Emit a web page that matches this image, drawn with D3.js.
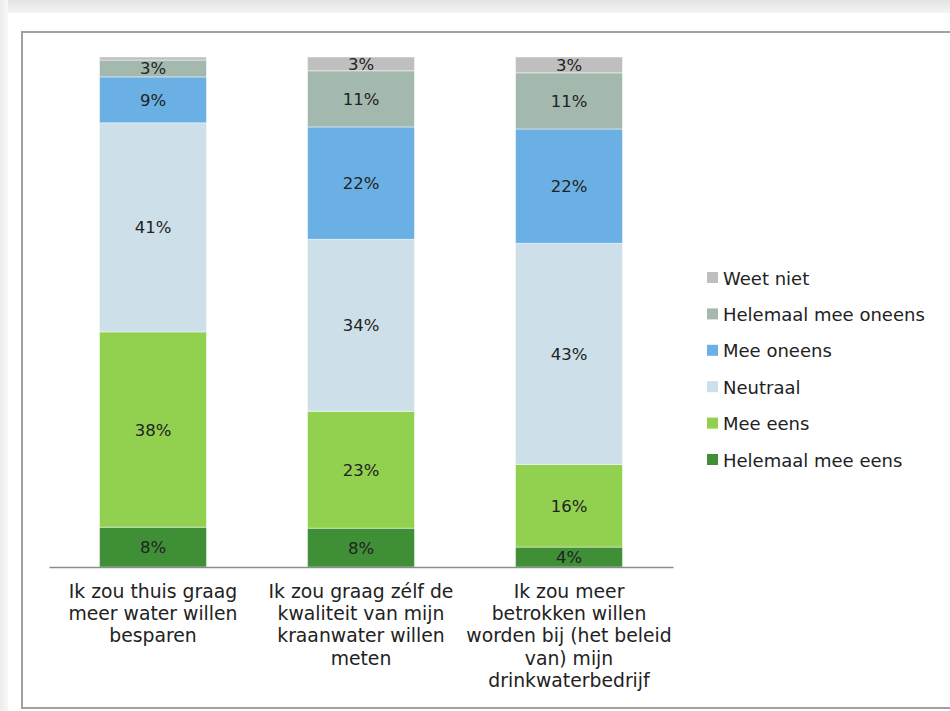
<!DOCTYPE html>
<html>
<head>
<meta charset="utf-8">
<script src="https://cdn.jsdelivr.net/npm/d3@7/dist/d3.min.js"></script>
<style>
  html, body { margin: 0; padding: 0; background: #fff; }
  svg { display: block; font-family: "DejaVu Sans", Verdana, sans-serif; }
</style>
</head>
<body>
<svg id="chart" width="950" height="711"></svg>
<script>
// Survey statements (x categories), broken in lines as in the original
const categories = ["Q1", "Q2", "Q3"];
const categoryLines = [
  ["Ik zou thuis graag", "meer water willen", "besparen"],
  ["Ik zou graag zélf de", "kwaliteit van mijn", "kraanwater willen", "meten"],
  ["Ik zou meer", "betrokken willen", "worden bij (het beleid", "van) mijn", "drinkwaterbedrijf"]
];

// Answer series, from bottom to top of the stack
const series = ["Helemaal mee eens", "Mee eens", "Neutraal", "Mee oneens", "Helemaal mee oneens", "Weet niet"];
const colors = ["#3f8f36", "#92d050", "#cde0ea", "#6ab0e4", "#a3b9ae", "#bfbfbf"];

// Percentages per series, one value per statement
const helemaalMeeEens   = [7.8, 7.6, 3.9];
const meeEens           = [38.3, 22.9, 16.2];
const neutraal          = [41.0, 33.7, 43.3];
const meeOneens         = [9.0, 22.0, 22.4];
const helemaalMeeOneens = [3.3, 11.0, 11.0];
const weetNiet          = [0.6, 2.7, 3.1];

const seriesValues = [helemaalMeeEens, meeEens, neutraal, meeOneens, helemaalMeeOneens, weetNiet];

// Build table for d3.stack
const table = categories.map((c, i) => {
  const row = { cat: c };
  series.forEach((s, j) => { row[s] = seriesValues[j][i]; });
  return row;
});

const svg = d3.select("#chart");

// Page shading + frame
const defs = svg.append("defs");
const gTop = defs.append("linearGradient").attr("id", "shadeTop").attr("x1", 0).attr("y1", 0).attr("x2", 0).attr("y2", 1);
gTop.append("stop").attr("offset", "0%").attr("stop-color", "#e4e4e4");
gTop.append("stop").attr("offset", "100%").attr("stop-color", "#f4f4f4");
const gLeft = defs.append("linearGradient").attr("id", "shadeLeft").attr("x1", 0).attr("y1", 0).attr("x2", 1).attr("y2", 0);
gLeft.append("stop").attr("offset", "0%").attr("stop-color", "#ececec");
gLeft.append("stop").attr("offset", "100%").attr("stop-color", "#f8f8f8");

svg.append("rect").attr("x", 0).attr("y", 0).attr("width", 950).attr("height", 13).attr("fill", "url(#shadeTop)");
svg.append("rect").attr("x", 0).attr("y", 0).attr("width", 8).attr("height", 711).attr("fill", "url(#shadeLeft)");
svg.append("rect").attr("x", 8).attr("y", 13).attr("width", 942).attr("height", 698).attr("fill", "#fff");
svg.append("rect")
  .attr("x", 22).attr("y", 32).attr("width", 960).attr("height", 676)
  .attr("fill", "none").attr("stroke", "#a0a0a0").attr("stroke-width", 2);

// Scales
const x = d3.scaleBand()
  .domain(categories)
  .range([49, 673])
  .paddingInner(0.486)
  .paddingOuter(0.243);

const y = d3.scaleLinear()
  .domain([0, 1])
  .range([567, 57]);

const stack = d3.stack()
  .keys(series)
  .order(d3.stackOrderNone)
  .offset(d3.stackOffsetExpand);

const stacked = stack(table);

// Bars
const layers = svg.append("g")
  .selectAll("g")
  .data(stacked)
  .join("g")
    .attr("fill", (d, i) => colors[i]);

layers.selectAll("rect")
  .data(d => d)
  .join("rect")
    .attr("x", d => x(d.data.cat))
    .attr("y", d => y(d[1]))
    .attr("width", x.bandwidth())
    .attr("height", d => y(d[0]) - y(d[1]))
    .attr("stroke", "rgba(255,255,255,0.45)")
    .attr("stroke-width", 1);

// Value labels (rounded percentages, skipped when below 1%)
layers.each(function(layer, i) {
  d3.select(this).selectAll("text")
    .data(layer.filter((d, k) => seriesValues[i][k] >= 1))
    .join("text")
      .attr("x", d => x(d.data.cat) + x.bandwidth() / 2)
      .attr("y", d => (y(d[0]) + y(d[1])) / 2 + 6)
      .attr("text-anchor", "middle")
      .attr("fill", "#222")
      .attr("font-size", "16.5px")
      .text(d => Math.round(d.data[series[i]]) + "%");
});

// X axis
const xAxis = svg.append("g")
  .attr("transform", "translate(0,567)")
  .call(d3.axisBottom(x).tickSize(0).tickFormat(""))
  .attr("font-family", "DejaVu Sans, Verdana, sans-serif");

xAxis.select(".domain").attr("stroke", "#8c8c8c").attr("stroke-width", 1.5);

xAxis.selectAll(".tick text").remove();
xAxis.selectAll(".tick").each(function(d, i) {
  const t = d3.select(this).append("text")
    .attr("text-anchor", "middle")
    .attr("fill", "#222")
    .attr("font-size", "18.8px")
    .attr("y", 31);
  categoryLines[i].forEach((line, k) => {
    t.append("tspan").attr("x", 0).attr("dy", k === 0 ? 0 : 22.2).text(line);
  });
});

// Legend (top to bottom: Weet niet ... Helemaal mee eens)
const legendItems = series.map((s, i) => ({ name: s, color: colors[i] })).reverse();
const legend = svg.append("g").attr("transform", "translate(707,278)");
const item = legend.selectAll("g")
  .data(legendItems)
  .join("g")
    .attr("transform", (d, i) => `translate(0,${i * 36.4})`);
item.append("rect")
  .attr("x", 0).attr("y", -6)
  .attr("width", 11).attr("height", 11)
  .attr("fill", d => d.color);
item.append("text")
  .attr("x", 16).attr("y", 6.5)
  .attr("fill", "#222")
  .attr("font-size", "18px")
  .text(d => d.name);
</script>
</body>
</html>
